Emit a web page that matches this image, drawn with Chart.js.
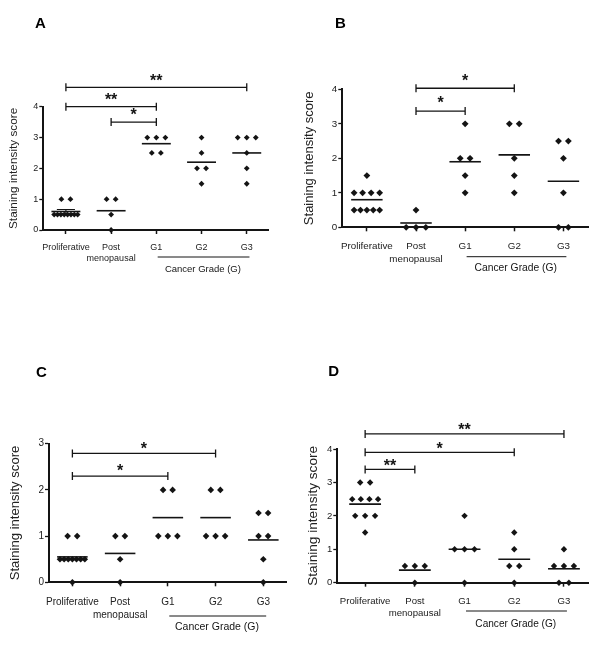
<!DOCTYPE html>
<html lang="en">
<head>
<meta charset="UTF-8">
<title>Staining intensity score</title>
<script src="https://cdn.jsdelivr.net/npm/chart.js@4.4.1/dist/chart.umd.min.js"></script>
<style>
    body { margin: 0; background: #fff; }
    #wrap { position: relative; width: 600px; height: 656px; }
    #wrap canvas { position: absolute; }
</style>
</head>
<body>
<div id="wrap">
    <canvas id="panelA" width="300" height="328" style="left:0;top:0"></canvas>
    <canvas id="panelB" width="300" height="328" style="left:300px;top:0"></canvas>
    <canvas id="panelC" width="300" height="328" style="left:0;top:328px"></canvas>
    <canvas id="panelD" width="300" height="328" style="left:300px;top:328px"></canvas>
</div>
<script>
    const FONT = "'Liberation Sans', Arial, sans-serif";
    const INK = '#141414';

    const groupLabels = ['Proliferative', ['Post', 'menopausal'], 'G1', 'G2', 'G3'];
    const gradeTitle = 'Cancer Grade (G)';
    const yTitle = 'Staining intensity score';

    // scores per group: Proliferative, Post menopausal, G1, G2, G3
    const scoresA = [
        [1, 1, 0.5, 0.5, 0.5, 0.5, 0.5, 0.5, 0.5, 0.5],
        [1, 1, 0.5, 0],
        [3, 3, 3, 2.5, 2.5],
        [3, 2.5, 2, 2, 1.5],
        [3, 3, 3, 2.5, 2, 1.5]
    ];
    const scoresB = [
        [1.5, 1, 1, 1, 1, 0.5, 0.5, 0.5, 0.5, 0.5],
        [0.5, 0, 0, 0],
        [3, 2, 2, 1.5, 1],
        [3, 3, 2, 1.5, 1],
        [2.5, 2.5, 2, 1, 0, 0]
    ];
    const scoresC = [
        [1, 1, 0.5, 0.5, 0.5, 0.5, 0.5, 0.5, 0.5, 0],
        [1, 1, 0.5, 0],
        [2, 2, 1, 1, 1],
        [2, 2, 1, 1, 1],
        [1.5, 1.5, 1, 1, 0.5, 0]
    ];
    const scoresD = [
        [3, 3, 2.5, 2.5, 2.5, 2.5, 2, 2, 2, 1.5],
        [0.5, 0.5, 0.5, 0],
        [2, 1, 1, 1, 0],
        [1.5, 1, 0.5, 0.5, 0],
        [1, 0.5, 0.5, 0.5, 0, 0]
    ];

    // significance brackets: [from group, to group, level (score units), stars]
    const bracketsA = [[1, 5, 4.63, '**'], [1, 3, 4.0, '**'], [2, 3, 3.5, '*']];
    const bracketsB = [[2, 4, 4.03, '*'], [2, 3, 3.37, '*']];
    const bracketsC = [[1, 4, 2.79, '*'], [1, 3, 2.3, '*']];
    const bracketsD = [[1, 5, 4.45, '**'], [1, 4, 3.9, '*'], [1, 2, 3.39, '**']];

    // groups drawn with a mean +/- SEM bar
    const semGroupsA = [0];

    const panels = [
        { id: 'panelA', letter: 'A', scores: scoresA, brackets: bracketsA, sem: semGroupsA,
          left: 43.3, right: 268, top: 106.7, bottom: 230, yMax: 4, xMin: 0.5, xMax: 5.47,
          tick: 9, title: 11.8, titlePad: 6.4, xPad: 7.4, r: 2.9, starGap: 11,
          lineOff: 27, textOff: 39, letterX: 35, letterY: 28.3 },
        { id: 'panelB', letter: 'B', scores: scoresB, brackets: bracketsB, sem: [],
          left: 42.3, right: 288, top: 89.3, bottom: 227.3, yMax: 4, xMin: 0.5, xMax: 5.5,
          tick: 9.8, title: 13, titlePad: 1.7, xPad: 9.3, r: 3.4, starGap: 12,
          lineOff: 29.4, textOff: 41, letterX: 35, letterY: 28.3 },
        { id: 'panelC', letter: 'C', scores: scoresC, brackets: bracketsC, sem: [],
          left: 49, right: 286.7, top: 115.7, bottom: 254.3, yMax: 3, xMin: 0.51, xMax: 5.49,
          tick: 10, title: 13.1, titlePad: 7.1, xPad: 10.1, r: 3.3, starGap: 9,
          lineOff: 33.7, textOff: 44.4, letterX: 36, letterY: 48.7 },
        { id: 'panelD', letter: 'D', scores: scoresD, brackets: bracketsD, sem: [],
          left: 37.3, right: 288.3, top: 121, bottom: 254.7, yMax: 4, xMin: 0.44, xMax: 5.49,
          tick: 9.6, title: 13.6, titlePad: 5.1, xPad: 9, r: 3.2, starGap: 8,
          lineOff: 28.3, textOff: 41.3, letterX: 28.3, letterY: 48 }
    ];

    // spread equal values side by side around the group centre
    function spread(values, center) {
        const counts = {};
        values.forEach(v => counts[v] = (counts[v] || 0) + 1);
        const seen = {};
        return values.map(v => {
            const n = counts[v];
            const k = seen[v] = (seen[v] === undefined ? 0 : seen[v] + 1);
            const step = n > 1 ? Math.min(0.2, 0.52 / (n - 1)) : 0;
            return { x: center + (k - (n - 1) / 2) * step, y: v };
        });
    }

    const mean = arr => arr.reduce((a, b) => a + b, 0) / arr.length;
    const sem = arr => {
        const m = mean(arr);
        const sd = Math.sqrt(arr.reduce((a, b) => a + (b - m) * (b - m), 0) / (arr.length - 1));
        return sd / Math.sqrt(arr.length);
    };

    const extras = {
        id: 'extras',
        afterDraw(chart) {
            const p = chart.options.plugins.extras;
            const { ctx, scales: { x, y } } = chart;
            ctx.save();
            ctx.strokeStyle = INK;
            ctx.fillStyle = INK;

            // brackets with stars
            const starSize = 16;
            ctx.lineWidth = 1.3;
            p.brackets.forEach(([a, b, level, stars]) => {
                const x1 = x.getPixelForValue(a), x2 = x.getPixelForValue(b);
                const yy = y.getPixelForValue(level);
                ctx.beginPath();
                ctx.moveTo(x1, yy); ctx.lineTo(x2, yy);
                ctx.moveTo(x1, yy - 4); ctx.lineTo(x1, yy + 4);
                ctx.moveTo(x2, yy - 4); ctx.lineTo(x2, yy + 4);
                ctx.stroke();
                ctx.font = `bold ${starSize}px ${FONT}`;
                ctx.textAlign = 'center';
                ctx.textBaseline = 'alphabetic';
                ctx.fillText(stars, (x1 + x2) / 2, yy - p.starGap + 0.58 * starSize);
            });

            // cancer grade group line and label
            const axisY = chart.chartArea.bottom;
            ctx.lineWidth = 1;
            ctx.beginPath();
            ctx.moveTo(x.getPixelForValue(3.03), axisY + p.lineOff);
            ctx.lineTo(x.getPixelForValue(5.06), axisY + p.lineOff);
            ctx.stroke();
            ctx.font = `${(p.tick * 1.05).toFixed(1)}px ${FONT}`;
            ctx.textAlign = 'center';
            ctx.textBaseline = 'middle';
            ctx.fillText(gradeTitle, x.getPixelForValue(4.03), axisY + p.textOff);

            // panel letter
            ctx.fillStyle = '#000';
            ctx.font = `bold 15px ${FONT}`;
            ctx.textAlign = 'left';
            ctx.textBaseline = 'alphabetic';
            ctx.fillText(p.letter, p.letterX, p.letterY);
            ctx.restore();
        }
    };

    panels.forEach(p => {
        const datasets = [];
        p.scores.forEach((vals, i) => {
            datasets.push({
                data: spread(vals, i + 1),
                pointStyle: 'rectRot',
                pointRadius: p.r,
                backgroundColor: INK,
                borderWidth: 0,
                clip: false
            });
            const m = mean(vals);
            datasets.push({
                data: [{ x: i + 1 - 0.32, y: m }, { x: i + 1 + 0.32, y: m }],
                showLine: true,
                borderColor: INK,
                borderWidth: 1.6,
                pointRadius: 0,
                clip: false
            });
            if (p.sem.includes(i)) {
                const s = sem(vals);
                datasets.push({
                    data: [
                        { x: i + 1 - 0.2, y: m + s }, { x: i + 1 + 0.2, y: m + s }, { x: NaN, y: NaN },
                        { x: i + 1, y: m + s }, { x: i + 1, y: m - s }, { x: NaN, y: NaN },
                        { x: i + 1 - 0.2, y: m - s }, { x: i + 1 + 0.2, y: m - s }
                    ],
                    showLine: true,
                    spanGaps: false,
                    borderColor: INK,
                    borderWidth: 1.1,
                    pointRadius: 0,
                    clip: false
                });
            }
        });

        new Chart(document.getElementById(p.id), {
            type: 'scatter',
            data: { datasets },
            options: {
                responsive: false,
                animation: false,
                devicePixelRatio: 1,
                layout: { padding: { left: 0, top: p.top, right: 300 - p.right, bottom: 0 } },
                plugins: {
                    legend: { display: false },
                    tooltip: { enabled: false },
                    extras: p
                },
                scales: {
                    x: {
                        type: 'linear',
                        min: p.xMin,
                        max: p.xMax,
                        afterBuildTicks: s => { s.ticks = groupLabels.map((_, i) => ({ value: i + 1 })); },
                        afterFit: s => { s.height = 328 - p.bottom; },
                        ticks: {
                            callback: v => groupLabels[Math.round(v) - 1],
                            font: { family: FONT, size: p.tick, lineHeight: 1.25 },
                            color: '#222',
                            padding: p.xPad,
                            maxRotation: 0,
                            autoSkip: false
                        },
                        grid: { drawOnChartArea: false, drawTicks: true, tickLength: 4, tickColor: INK, tickWidth: 1.5 },
                        border: { display: true, color: INK, width: 2 }
                    },
                    y: {
                        min: 0,
                        max: p.yMax,
                        afterFit: s => { s.width = p.left; },
                        ticks: {
                            stepSize: 1,
                            font: { family: FONT, size: p.tick },
                            color: '#222',
                            padding: 1
                        },
                        grid: { drawOnChartArea: false, drawTicks: true, tickLength: 4, tickColor: INK, tickWidth: 1.3 },
                        border: { display: true, color: INK, width: 2 },
                        title: {
                            display: true,
                            text: yTitle,
                            font: { family: FONT, size: p.title },
                            color: '#222',
                            padding: { top: p.titlePad, bottom: 0 }
                        }
                    }
                }
            },
            plugins: [extras]
        });
    });
</script>
</body>
</html>
